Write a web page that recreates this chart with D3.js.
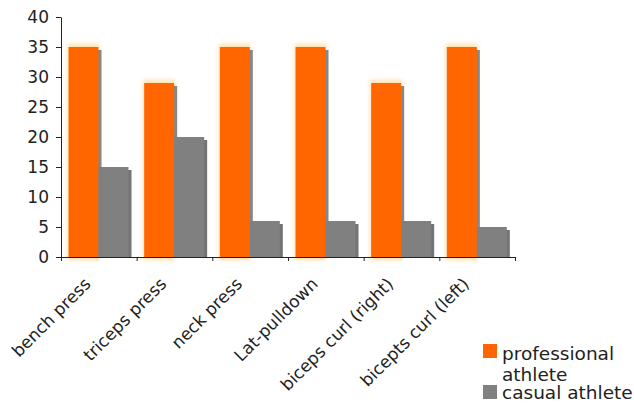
<!DOCTYPE html>
<html lang="en">
<head>
  <meta charset="UTF-8">
  <title>athletes</title>
  <style>
    body{ margin: 0; background: #fff; }
    svg{ display: block; font-family: Verdana, "DejaVu Sans", sans-serif; }
  </style>
</head>
<body>
<svg width="634" height="403"></svg>

<script src="https://cdn.jsdelivr.net/npm/d3@7/dist/d3.min.js"></script>
<script>
  // data
  var exercises = ['bench press', 'triceps press', 'neck press', 'Lat-pulldown', 'biceps curl (right)', 'bicepts curl (left)'];
  var professional = [35, 29, 35, 35, 29, 35];
  var casual = [15, 20, 6, 6, 6, 5];
  var seriesNames = ['professional athlete', 'casual athlete'];
  var yTicks = [0, 5, 10, 15, 20, 25, 30, 35, 40];

  var svg = d3.select('svg');
  var plotL = 61, plotR = 515, plotT = 17, plotB = 257;

  var x = d3.scaleBand().domain(exercises).range([plotL, plotR]);
  var xEdge = d3.scaleLinear().domain([0, exercises.length]).range([plotL, plotR]);
  var y = d3.scaleLinear().domain([0, 40]).range([plotB, plotT]);

  // glow filter for the orange bars
  var defs = svg.append('defs');
  defs.append('filter').attr('id', 'glow').attr('x', '-30%').attr('y', '-10%').attr('width', '160%').attr('height', '120%')
    .append('feGaussianBlur').attr('stdDeviation', 2);

  var barW = 30, off = 7.5, sh = 3;
  var g = svg.append('g');
  var groups = g.selectAll('g').data(exercises).enter().append('g')
    .attr('transform', function (d) { return 'translate(' + x(d) + ',0)'; });

  // orange halo
  groups.append('rect')
    .attr('x', off - 1).attr('width', barW + 2)
    .attr('y', function (d, i) { return y(professional[i]) - 3; })
    .attr('height', function (d, i) { return plotB - y(professional[i]) + 6; })
    .attr('fill', '#ffd58a').attr('opacity', 0.7).attr('filter', 'url(#glow)');
  // shadows + bars
  groups.append('rect')
    .attr('x', off + sh).attr('width', barW)
    .attr('y', function (d, i) { return y(professional[i]) + sh; })
    .attr('height', function (d, i) { return plotB - y(professional[i]) - sh; })
    .attr('fill', '#878787');
  groups.append('rect')
    .attr('x', off).attr('width', barW)
    .attr('y', function (d, i) { return y(professional[i]); })
    .attr('height', function (d, i) { return plotB - y(professional[i]); })
    .attr('fill', '#ff6600');
  groups.append('rect')
    .attr('x', off + barW + sh).attr('width', barW)
    .attr('y', function (d, i) { return y(casual[i]) + sh; })
    .attr('height', function (d, i) { return plotB - y(casual[i]) - sh; })
    .attr('fill', '#747474');
  groups.append('rect')
    .attr('x', off + barW).attr('width', barW)
    .attr('y', function (d, i) { return y(casual[i]); })
    .attr('height', function (d, i) { return plotB - y(casual[i]); })
    .attr('fill', '#808080');

  // y axis
  var yAxis = svg.append('g').attr('transform', 'translate(' + plotL + ',0)')
    .call(d3.axisLeft(y).tickValues(yTicks).tickSize(5).tickPadding(7).tickSizeOuter(0));
  yAxis.selectAll('text').attr('font-size', 17).attr('fill', '#222').attr('font-family', 'Verdana, "DejaVu Sans", sans-serif');

  // x axis
  var xAxis = svg.append('g').attr('transform', 'translate(0,' + plotB + ')')
    .call(d3.axisBottom(xEdge).ticks(exercises.length).tickSize(4).tickFormat('').tickSizeOuter(0));
  svg.selectAll('.domain, .tick line').attr('stroke', '#222');

  svg.append('g').selectAll('text').data(exercises).enter().append('text')
    .attr('transform', function (d) {
      return 'translate(' + (x(d) + x.bandwidth() / 2 - 7) + ',' + (plotB + 28) + ') rotate(-45)';
    })
    .attr('text-anchor', 'end').attr('font-size', 17).attr('fill', '#222')
    .text(function (d) { return d; });

  // legend
  var legend = svg.append('g');
  legend.append('rect').attr('x', 483).attr('y', 344).attr('width', 14).attr('height', 14).attr('fill', '#ff6600');
  legend.append('rect').attr('x', 483).attr('y', 385).attr('width', 14).attr('height', 14).attr('fill', '#808080');
  var t1 = legend.append('text').attr('x', 502).attr('y', 360).attr('font-size', 18.5).attr('fill', '#222');
  t1.append('tspan').attr('x', 502).text(seriesNames[0].split(' ')[0]);
  t1.append('tspan').attr('x', 502).attr('dy', 21).text(seriesNames[0].split(' ')[1]);
  legend.append('text').attr('x', 502).attr('y', 399).attr('font-size', 18.5).attr('fill', '#222').text(seriesNames[1]);
</script>
</body>
</html>
